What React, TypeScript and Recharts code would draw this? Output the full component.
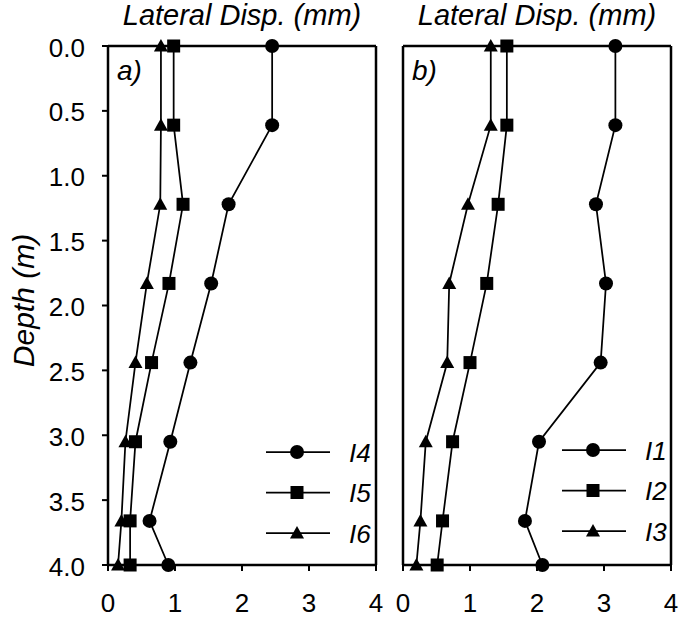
import React from "react";
import { ScatterChart, Scatter, XAxis, YAxis, Legend, Label } from "recharts";

// depth of each inclinometer reading (m)
const depths = [0, 0.61, 1.22, 1.83, 2.44, 3.05, 3.66, 4.0];

// lateral displacement (mm), panel a
const i4 = [2.45, 2.45, 1.8, 1.54, 1.23, 0.93, 0.62, 0.9];
const i5 = [0.98, 0.98, 1.12, 0.91, 0.65, 0.41, 0.33, 0.33];
const i6 = [0.79, 0.79, 0.78, 0.58, 0.41, 0.26, 0.2, 0.15];

// lateral displacement (mm), panel b
const i1 = [3.17, 3.17, 2.88, 3.03, 2.95, 2.03, 1.82, 2.08];
const i2 = [1.55, 1.55, 1.42, 1.25, 1.0, 0.74, 0.59, 0.51];
const i3 = [1.31, 1.31, 0.97, 0.69, 0.66, 0.34, 0.26, 0.2];

const dispTicks = [0, 1, 2, 3, 4];
const depthTicks = [0, 0.5, 1, 1.5, 2, 2.5, 3, 3.5, 4];

const FONT = '"Liberation Sans", Arial, sans-serif';
const BLACK = "#000";

type Kind = "circle" | "square" | "triangle";

const toPoints = (xs: number[]) => xs.map((x, i) => ({ x, y: depths[i] }));

function Marker({ cx, cy, kind }: { cx: number; cy: number; kind: Kind }) {
  if (cx == null || cy == null) return null;
  if (kind === "circle") return <circle cx={cx} cy={cy} r={7} fill={BLACK} />;
  if (kind === "square")
    return <rect x={cx - 6.5} y={cy - 6.5} width={13} height={13} fill={BLACK} />;
  return (
    <polygon
      points={`${cx},${cy - 7} ${cx + 7},${cy + 5.5} ${cx - 7},${cy + 5.5}`}
      fill={BLACK}
    />
  );
}

// tick labels drawn by hand so the font size sticks
function BottomTick({ x, y, payload }: any) {
  return (
    <text x={x} y={y + 17} textAnchor="middle" fontFamily={FONT} fontSize={26} fill={BLACK}>
      {payload.value}
    </text>
  );
}

function DepthTick({ x, y, payload }: any) {
  return (
    <text x={x} y={y + 10.5} textAnchor="end" fontFamily={FONT} fontSize={26} fill={BLACK}>
      {Number(payload.value).toFixed(1)}
    </text>
  );
}

function LegendBox({ payload }: any) {
  const items = payload ?? [];
  return (
    <svg width={120} height={125} style={{ overflow: "visible" }}>
      {items.map((it: any, i: number) => {
        const y = 15 + i * 40.5;
        return (
          <g key={it.value}>
            <line x1={4} x2={68} y1={y} y2={y} stroke={BLACK} strokeWidth={1.75} />
            <Marker cx={35} cy={y} kind={it.type as Kind} />
            <text
              x={87}
              y={y + 9.5}
              fontFamily={FONT}
              fontStyle="italic"
              fontSize={26}
              fill={BLACK}
            >
              {it.value}
            </text>
          </g>
        );
      })}
    </svg>
  );
}

interface SeriesDef {
  name: string;
  values: number[];
  kind: Kind;
}

interface PanelProps {
  tag: string;
  series: SeriesDef[];
  left: number;
  width: number;
  axisWidth: number;
  rightWidth: number;
  showDepth: boolean;
  legendLeft: number;
  legendTop: number;
}

const axisLine = { stroke: BLACK, strokeWidth: 2.5 };
const tickLine = { stroke: BLACK, strokeWidth: 2 };

function Panel({
  tag,
  series,
  left,
  width,
  axisWidth,
  rightWidth,
  showDepth,
  legendLeft,
  legendTop,
}: PanelProps) {
  return (
    <div style={{ position: "absolute", left, top: 0 }}>
      <ScatterChart
        width={width}
        height={620}
        margin={{ top: 0, right: 0, bottom: 0, left: 0 }}
      >
        <XAxis
          xAxisId="bottom"
          type="number"
          dataKey="x"
          domain={[0, 4]}
          ticks={dispTicks}
          orientation="bottom"
          height={55}
          axisLine={axisLine}
          tickLine={tickLine}
          tickSize={6}
          tickMargin={24}
          tick={<BottomTick />}
        />
        <XAxis
          xAxisId="top"
          type="number"
          domain={[0, 4]}
          orientation="top"
          height={46}
          axisLine={axisLine}
          tick={false}
          tickLine={false}
        >
          <Label
            content={({ viewBox }: any) => (
              <g>
                <text
                  x={viewBox.x + viewBox.width / 2}
                  y={viewBox.y + 25}
                  textAnchor="middle"
                  fontFamily={FONT}
                  fontStyle="italic"
                  fontSize={29}
                  fill={BLACK}
                >
                  Lateral Disp. (mm)
                </text>
                <text
                  x={viewBox.x + 9}
                  y={viewBox.y + viewBox.height + 34}
                  fontFamily={FONT}
                  fontStyle="italic"
                  fontSize={28}
                  fill={BLACK}
                >
                  {tag}
                </text>
              </g>
            )}
          />
        </XAxis>
        <YAxis
          yAxisId="left"
          type="number"
          dataKey="y"
          domain={[0, 4]}
          ticks={depthTicks}
          reversed
          width={axisWidth}
          axisLine={axisLine}
          tickLine={tickLine}
          tickSize={6}
          tickMargin={17}
          tick={showDepth ? <DepthTick /> : false}
        >
          {showDepth && (
            <Label
              content={({ viewBox }: any) => {
                const cx = viewBox.x + 34;
                const cy = viewBox.y + viewBox.height / 2 - 5;
                return (
                  <text
                    x={cx}
                    y={cy}
                    transform={`rotate(-90 ${cx} ${cy})`}
                    textAnchor="middle"
                    fontFamily={FONT}
                    fontStyle="italic"
                    fontSize={30}
                    fill={BLACK}
                  >
                    Depth (m)
                  </text>
                );
              }}
            />
          )}
        </YAxis>
        <YAxis
          yAxisId="right"
          type="number"
          domain={[0, 4]}
          reversed
          orientation="right"
          width={rightWidth}
          axisLine={axisLine}
          tick={false}
          tickLine={false}
        />
        <Legend
          layout="vertical"
          align="center"
          verticalAlign="middle"
          content={<LegendBox />}
          wrapperStyle={{ left: legendLeft, top: legendTop, width: 120 }}
        />
        {series.map((s) => (
          <Scatter
            key={s.name}
            name={s.name}
            xAxisId="bottom"
            yAxisId="left"
            data={toPoints(s.values)}
            fill={BLACK}
            legendType={s.kind}
            line={{ stroke: BLACK, strokeWidth: 1.75 }}
            shape={(p: any) => <Marker cx={p.cx} cy={p.cy} kind={s.kind} />}
            isAnimationActive={false}
          />
        ))}
      </ScatterChart>
    </div>
  );
}

const seriesA: SeriesDef[] = [
  { name: "I4", values: i4, kind: "circle" },
  { name: "I5", values: i5, kind: "square" },
  { name: "I6", values: i6, kind: "triangle" },
];

const seriesB: SeriesDef[] = [
  { name: "I1", values: i1, kind: "circle" },
  { name: "I2", values: i2, kind: "square" },
  { name: "I3", values: i3, kind: "triangle" },
];

export default function App() {
  return (
    <div
      style={{
        position: "absolute",
        left: 0,
        top: 0,
        width: 681,
        height: 620,
        background: "#fff",
      }}
    >
      <Panel
        tag="a)"
        series={seriesA}
        left={0}
        width={390}
        axisWidth={108}
        rightWidth={14}
        showDepth
        legendLeft={262}
        legendTop={437}
      />
      <Panel
        tag="b)"
        series={seriesB}
        left={390}
        width={291}
        axisWidth={13}
        rightWidth={10}
        showDepth={false}
        legendLeft={168}
        legendTop={435}
      />
    </div>
  );
}
